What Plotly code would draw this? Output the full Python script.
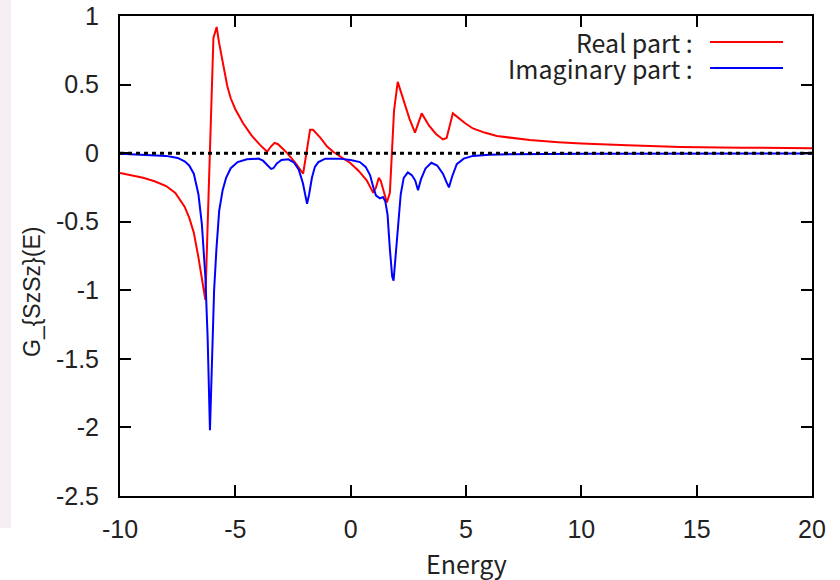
import plotly.graph_objects as go

# ---- data ----
energy_real = [-10, -9.5, -9.0, -8.5, -8.0, -7.6, -7.4, -7.2, -7.0, -6.8, -6.6, -6.45, -6.3,
               -5.95, -5.81, -5.7, -5.53, -5.35, -5.2, -5.0, -4.67, -4.3, -3.93, -3.62,
               -3.45, -3.3, -3.15, -3.0, -2.75, -2.4, -2.06, -1.9, -1.76, -1.63, -1.3,
               -1.03, -0.76, -0.4, -0.03, 0.35, 0.7, 0.98, 1.1, 1.22, 1.3, 1.42, 1.57,
               1.7, 1.78, 1.88, 2.04, 2.3, 2.55, 2.79, 3.08, 3.4, 3.7, 4.0, 4.16, 4.43,
               4.7, 4.95, 5.3, 5.8, 6.34, 7.0, 7.77, 9.0, 10.0, 12.0, 14.3, 17.0, 20.0]
g_real = [-0.145, -0.16, -0.18, -0.205, -0.24, -0.29, -0.34, -0.39, -0.47, -0.58, -0.76, -0.92, -1.07,
          0.84, 0.92, 0.80, 0.64, 0.49, 0.40, 0.32, 0.22, 0.13, 0.06, 0.01,
          0.05, 0.075, 0.065, 0.04, 0.0, -0.07, -0.15, 0.02, 0.17, 0.17, 0.11,
          0.05, 0.01, -0.03, -0.07, -0.13, -0.2, -0.29, -0.25, -0.18, -0.2, -0.27, -0.36,
          -0.29, 0.0, 0.31, 0.52, 0.38, 0.25, 0.15, 0.29, 0.20, 0.14, 0.10, 0.11, 0.29,
          0.25, 0.22, 0.18, 0.15, 0.125, 0.11, 0.095, 0.08, 0.07, 0.057, 0.045, 0.04, 0.035]

energy_imag = [-10, -9.0, -8.0, -7.5, -7.2, -7.0, -6.8, -6.6, -6.45, -6.3, -6.2, -6.1,
               -6.0, -5.92, -5.82, -5.7, -5.55, -5.4, -5.2, -4.9, -4.5, -4.0, -3.8,
               -3.6, -3.45, -3.35, -3.2, -3.0, -2.7, -2.45, -2.25, -2.07, -1.95, -1.89,
               -1.8, -1.68, -1.55, -1.4, -1.1, -0.5, 0.0, 0.4, 0.65, 0.84, 1.0, 1.1,
               1.27, 1.4, 1.5, 1.6, 1.7, 1.8, 1.86, 1.95, 2.05, 2.17, 2.3, 2.48, 2.65,
               2.8, 2.92, 3.05, 3.25, 3.5, 3.75, 4.0, 4.15, 4.26, 4.4, 4.6, 4.9, 5.3,
               6.0, 7.0, 10.0, 20.0]
g_imag = [-0.005, -0.01, -0.02, -0.035, -0.06, -0.09, -0.15, -0.3, -0.52, -0.9, -1.35, -2.02,
          -1.45, -1.0, -0.7, -0.42, -0.27, -0.18, -0.11, -0.065, -0.045, -0.04, -0.055,
          -0.09, -0.115, -0.11, -0.075, -0.05, -0.045, -0.07, -0.12, -0.22, -0.34, -0.37,
          -0.3, -0.18, -0.1, -0.065, -0.04, -0.04, -0.05, -0.065, -0.1, -0.16, -0.26, -0.31,
          -0.33, -0.32, -0.35, -0.45, -0.7, -0.9, -0.93, -0.75, -0.49, -0.3, -0.18, -0.14, -0.16,
          -0.2, -0.27, -0.19, -0.11, -0.07, -0.09, -0.15, -0.21, -0.25, -0.17, -0.08, -0.04, -0.02,
          -0.012, -0.008, -0.004, -0.002]

zero_x = [-10, 20]
zero_y = [0, 0]

x_ticks = [-10, -5, 0, 5, 10, 15, 20]
x_tick_labels = ["-10", "-5", "0", "5", "10", "15", "20"]
y_ticks = [1, 0.5, 0, -0.5, -1, -1.5, -2, -2.5]
y_tick_labels = ["1", "0.5", "0", "-0.5", "-1", "-1.5", "-2", "-2.5"]

legend_labels = ["Real part :", "Imaginary part :"]
colors = ["#ff0000", "#0000ff"]

# ---- layout geometry (pixels) ----
W, H = 840, 580
L, R, T, B = 120, 28, 16, 84
PW, PH = W - L - R, H - T - B

def px(xp):
    return (xp - L) / PW

def py(yp):
    return (H - B - yp) / PH

fig = go.Figure()
fig.add_trace(go.Scatter(x=energy_real, y=g_real, mode="lines",
                         line=dict(color=colors[0], width=2), showlegend=False))
fig.add_trace(go.Scatter(x=energy_imag, y=g_imag, mode="lines",
                         line=dict(color=colors[1], width=2), showlegend=False))
fig.add_trace(go.Scatter(x=zero_x, y=zero_y, mode="lines",
                         line=dict(color="black", width=3, dash="4px,4px"),
                         showlegend=False))

tick_font = dict(family="Liberation Sans, Arial, sans-serif", size=25, color="#222222")
cjk_font = dict(family="Noto Sans CJK JP, Noto Sans, sans-serif", size=25, color="#222222")

fig.update_xaxes(range=[-10, 20], tickvals=x_ticks, ticktext=x_tick_labels,
                 ticks="inside", ticklen=11,
                 tickwidth=1.5, tickcolor="black", showline=True, linecolor="black",
                 linewidth=2, mirror="allticks", showgrid=False, zeroline=False,
                 tickfont=tick_font, ticklabelstandoff=10, automargin=False)
fig.update_yaxes(range=[-2.5, 1], tickvals=y_ticks, ticktext=y_tick_labels,
                 ticks="inside", ticklen=11, tickwidth=1.5, tickcolor="black",
                 showline=True, linecolor="black", linewidth=2, mirror="allticks",
                 showgrid=False, zeroline=False, tickfont=tick_font,
                 ticklabelstandoff=14, automargin=False)

annotations = [
    dict(text="Energy", x=px(466), y=py(563), xref="paper", yref="paper",
         showarrow=False, xanchor="center", yanchor="middle", font=cjk_font),
    dict(text="G_{SzSz}(E)", x=px(32), y=py(292), xref="paper", yref="paper",
         showarrow=False, xanchor="center", yanchor="middle", textangle=-90,
         font=dict(family="Liberation Sans, Arial, sans-serif", size=23, color="#222222")),
]
shapes = [
    dict(type="rect", xref="paper", yref="paper", x0=px(0), x1=px(11),
         y0=py(528), y1=py(0), fillcolor="#f4eef3", line=dict(width=0), layer="below"),
]
legend_y = [42, 68]
for lbl, c, yy in zip(legend_labels, colors, legend_y):
    annotations.append(dict(text=lbl, x=px(695), y=py(yy), xref="paper", yref="paper",
                            showarrow=False, xanchor="right", yanchor="middle",
                            font=cjk_font))
    shapes.append(dict(type="line", xref="paper", yref="paper", x0=px(710), x1=px(783),
                       y0=py(yy), y1=py(yy), line=dict(color=c, width=2)))

fig.update_layout(width=W, height=H, margin=dict(l=L, r=R, t=T, b=B, autoexpand=False),
                  paper_bgcolor="white", plot_bgcolor="white",
                  annotations=annotations, shapes=shapes)

fig.write_html("out.html", config={"displayModeBar": False},
               post_script="document.body.style.margin='0';document.body.style.padding='0';")
